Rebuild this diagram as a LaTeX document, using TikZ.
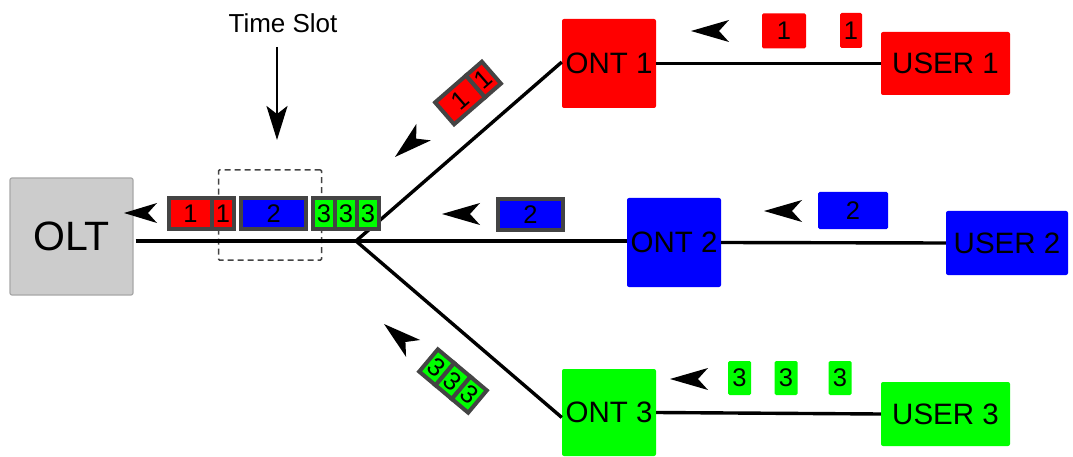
\documentclass[tikz,border=0pt]{standalone}
\usepackage{fontspec}
\setmainfont{Liberation Sans}
\usetikzlibrary{arrows.meta}
\definecolor{pred}{HTML}{FF0000}
\definecolor{pblue}{HTML}{0000FF}
\definecolor{pgreen}{HTML}{00FF00}
\definecolor{oltgray}{HTML}{CCCCCC}
\definecolor{oltedge}{HTML}{A8A8A8}
\definecolor{pkgray}{HTML}{444444}
\begin{document}
\begin{tikzpicture}[x=1pt,y=-1pt,
  unit/.style={rectangle, rounded corners=2pt, inner sep=0pt, font=\fontsize{29.5}{32}\selectfont},
  olt/.style={unit, fill=oltgray, draw=oltedge, line width=1.2pt, font=\fontsize{41}{44}\selectfont},
  tag/.style={rectangle, rounded corners=1.5pt, inner sep=0pt, font=\fontsize{25.5}{27}\selectfont},
  cell/.style={rectangle, draw=pkgray, line width=4pt, inner sep=0pt, minimum height=31pt, font=\fontsize{25.5}{27}\selectfont},
  dcell/.style={cell, minimum height=29pt},
  link/.style={line width=3.4pt},
  slotbox/.style={draw=pkgray, line width=1.5pt, dash pattern=on 6pt off 4pt, rounded corners=1pt},
  flowarr/.pic={\fill (0,0) -- (38,-11) -- (28,0) -- (38,11) -- cycle;},
  smallarr/.pic={\fill (0,0) -- (33,-10) -- (24,0) -- (33,10) -- cycle;}
]
\useasboundingbox (0,0) rectangle (1073,457);

% dashed time slot frame
\node[slotbox, minimum width=103pt, minimum height=90pt] (slot) at (270,215) {};

% main units
\node[olt, minimum width=123pt, minimum height=117pt] (OLT) at (71.5,236.5) {OLT};
\node[unit, fill=pred, minimum width=94pt, minimum height=89pt] (ONT1) at (609,63.5) {ONT 1};
\node[unit, fill=pred, minimum width=129pt, minimum height=63pt] (USER1) at (945.5,63.5) {USER 1};
\node[unit, fill=pblue, minimum width=94pt, minimum height=89pt] (ONT2) at (674,242.5) {ONT 2};
\node[unit, fill=pblue, minimum width=122pt, minimum height=64pt] (USER2) at (1007,243) {USER 2};
\node[unit, fill=pgreen, minimum width=94pt, minimum height=87pt] (ONT3) at (609,412.5) {ONT 3};
\node[unit, fill=pgreen, minimum width=129pt, minimum height=64pt] (USER3) at (945.5,414) {USER 3};

\coordinate (split) at (356,241);

% links
\draw[link] ([xshift=2pt]OLT.east |- split) -- (split) -- (ONT2.west |- split);
\draw[link] (split) -- ([yshift=1.5pt]ONT1.west);
\draw[link] (split) -- ([yshift=-5pt]ONT3.west);
\draw[link] (ONT1.east) -- (USER1.west);
\draw[link] (ONT2.east) -- (USER2.west);
\draw[link] (ONT3.east) -- (USER3.west);

% time slot label
\node[font=\fontsize{26}{28}\selectfont, inner sep=0pt] (ts) at (283,23) {Time Slot};
\coordinate (tsA) at (277,47);
\coordinate (tsB) at (277,140);
\draw[line width=2.5pt, -{Stealth[length=34pt,width=21pt,inset=8pt]}] (tsA) -- (tsB);

% upstream packets at users
\node[tag, fill=pred, minimum width=44pt, minimum height=35pt] (u1a) at (784,30.8) {1};
\node[tag, fill=pred, minimum width=22pt, minimum height=35pt] (u1b) at (851,30.5) {1};
\node[tag, fill=pblue, minimum width=70pt, minimum height=37pt] (u2a) at (853,210.5) {2};
\node[tag, fill=pgreen, minimum width=23pt, minimum height=34pt] (u3a) at (739.5,378) {3};
\node[tag, fill=pgreen, minimum width=23pt, minimum height=34pt] (u3b) at (786,378) {3};
\node[tag, fill=pgreen, minimum width=23pt, minimum height=34pt] (u3c) at (840,378) {3};

% flow arrows
\pic at (691,31) {flowarr};
\pic at (764,211) {flowarr};
\pic at (670,379) {flowarr};
\pic at (442,214) {flowarr};
\pic at (124,213) {smallarr};
\pic[rotate=41] at (395,157) {flowarr};
\pic[rotate=-40] at (384,324) {flowarr};

% packet in the middle trunk
\node[cell, fill=pblue, minimum width=65pt] (m2) at (530.5,214.4) {2};

% trunk packets
\node[cell, fill=pred, minimum width=43pt] (t1a) at (190.5,213.5) {1};
\node[cell, fill=pred, minimum width=22pt] (t1b) at (223,213.5) {1};
\node[cell, fill=pblue, minimum width=65pt] (t2) at (273.8,213.5) {2};
\node[cell, fill=pgreen, minimum width=22pt] (t3a) at (324,213.5) {3};
\node[cell, fill=pgreen, minimum width=22pt] (t3b) at (346,213.5) {3};
\node[cell, fill=pgreen, minimum width=22pt] (t3c) at (368,213.5) {3};

% diagonal packets
\begin{scope}[shift={(468,93)}, rotate=41, transform shape]
  \node[dcell, fill=pred, minimum width=41pt] (d1a) at (-10.5,0) {1};
  \node[dcell, fill=pred, minimum width=21pt] (d1b) at (20.5,0) {1};
\end{scope}
\begin{scope}[shift={(453,381)}, rotate=-40, transform shape]
  \node[dcell, fill=pgreen, minimum width=21.3pt] (d3a) at (-21.3,0) {3};
  \node[dcell, fill=pgreen, minimum width=21.3pt] (d3b) at (0,0) {3};
  \node[dcell, fill=pgreen, minimum width=21.3pt] (d3c) at (21.3,0) {3};
\end{scope}
\end{tikzpicture}
\end{document}
